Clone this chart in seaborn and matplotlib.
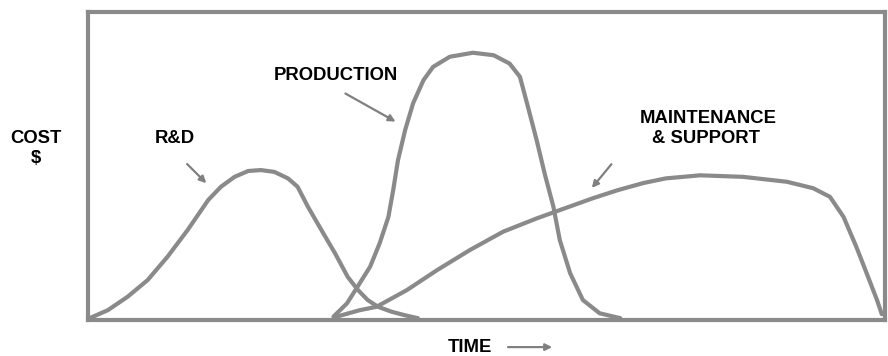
import matplotlib
matplotlib.use("Agg")
import matplotlib.pyplot as plt
import pandas as pd
import seaborn as sns

# time / cost values (time 0-100, cost 0-100)
rd_time = [0.2, 2.5, 5.0, 7.5, 10.0, 12.5, 15.1, 16.7, 18.4, 20.1, 21.7, 23.4, 25.1, 26.3,
           27.6, 29.3, 31.0, 32.6, 33.9, 35.1, 36.4, 38.1, 39.7, 41.4]
rd_cost = [0.6, 3.2, 7.6, 13.0, 20.6, 29.2, 39.0, 43.3, 46.5, 48.4, 48.7, 48.1, 46.0, 43.3,
           36.8, 29.2, 21.7, 14.0, 9.7, 6.5, 4.3, 2.7, 1.6, 0.6]

prod_time = [30.8, 32.5, 33.7, 35.4, 36.6, 37.7, 38.3, 38.9, 39.8, 40.8, 42.1, 43.3, 45.4,
             48.3, 50.9, 52.9, 54.2, 55.2, 56.3, 57.3, 58.4, 59.2, 60.5, 62.1, 64.2, 66.8]
prod_cost = [1.1, 5.4, 10.3, 17.3, 24.9, 33.5, 42.2, 51.9, 61.7, 70.4, 77.9, 82.2, 85.5,
             86.8, 86.0, 83.3, 79.0, 69.3, 58.4, 47.6, 36.8, 26.0, 15.2, 6.5, 2.2, 0.6]

maint_time = [31.2, 34.1, 36.2, 40.0, 43.8, 47.9, 52.1, 56.3, 59.2, 63.4, 66.5, 69.7, 72.5,
              76.8, 82.2, 87.7, 91.0, 93.1, 94.8, 96.4, 97.7, 99.0, 99.6]
maint_cost = [1.1, 3.2, 4.3, 9.7, 16.2, 22.7, 28.7, 33.0, 35.7, 39.6, 42.2, 44.5, 46.0,
              47.0, 46.5, 44.9, 42.8, 40.0, 33.5, 23.8, 15.2, 6.5, 1.9]

series = [("R&D", rd_time, rd_cost), ("PRODUCTION", prod_time, prod_cost),
          ("MAINTENANCE & SUPPORT", maint_time, maint_cost)]

rows = []
for name, ts, cs in series:
    for t, c in zip(ts, cs):
        rows.append({"phase": name, "time": t, "cost": c})
df = pd.DataFrame(rows)

sns.set_style("white")
plt.rcParams["font.family"] = ["Liberation Sans", "DejaVu Sans"]

gray = "#8a8a8a"
fig = plt.figure(figsize=(8.88, 3.56), dpi=100)
ax = fig.add_axes([0.099, 0.101, 0.8976, 0.865])

ax = sns.lineplot(data=df, x="time", y="cost", hue="phase", units="phase", estimator=None,
                  sort=False, palette=[gray, gray, gray], linewidth=3, legend=False, ax=ax)
for line in ax.lines:
    line.set_clip_on(False)
    line.set_solid_capstyle("round")
    line.set_solid_joinstyle("round")

ax.set_xlim(0, 100)
ax.set_ylim(0, 100)
ax.set_xticks([])
ax.set_yticks([])
ax.set_xlabel("")
ax.set_ylabel("")
for sp in ax.spines.values():
    sp.set_visible(True)
    sp.set_color(gray)
    sp.set_linewidth(3)

tkw = dict(fontsize=13.3, fontweight="bold", color="black", ha="center", va="center")
arrow = dict(arrowstyle="-|>", color="#808080", lw=1.6, mutation_scale=10)

ax.text(10.9, 59.1, "R&D", **tkw)
ax.text(31.1, 79.5, "PRODUCTION", **tkw)
ax.text(77.8, 65.3, "MAINTENANCE", **tkw)
ax.text(77.5, 58.8, "& SUPPORT", **tkw)

ax.annotate("", xy=(15.1, 43.8), xytext=(12.2, 51.3), arrowprops=arrow)
ax.annotate("", xy=(38.9, 64.0), xytext=(32.0, 74.0), arrowprops=arrow)
ax.annotate("", xy=(63.0, 42.2), xytext=(65.9, 51.3), arrowprops=arrow)

fig.text(0.0405, 0.612, "COST", **tkw)
fig.text(0.0405, 0.556, "$", **tkw)
fig.text(0.529, 0.025, "TIME", **tkw)
ax.annotate("", xy=(0.625, 0.025), xytext=(0.569, 0.025), xycoords="figure fraction",
            textcoords="figure fraction", arrowprops=arrow)

fig.savefig("out.png", dpi=100)
